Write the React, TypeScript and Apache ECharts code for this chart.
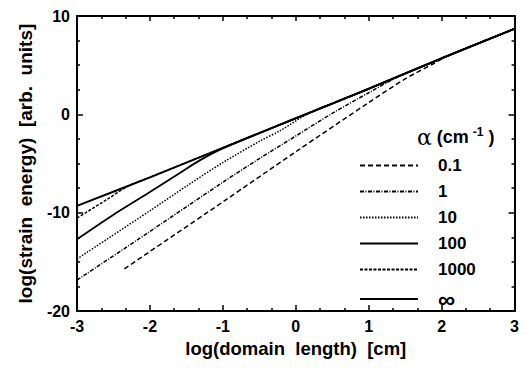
import React, { useEffect, useRef } from "react";
import * as echarts from "echarts";

// ---- data ----
const legendNames = ["0.1", "1", "10", "100", "1000", "\u221E"];

const x01 = [-2.35, -1, 0, 1, 1.5, 1.9, 2.1, 3];
const y01 = [-15.7, -8.9, -3.8, 1.2, 3.6, 5.2, 6.0, 8.7];

const x1 = [-3, -2, -1, -0.5, 0, 0.5, 1, 1.4, 2, 3];
const y1 = [-16.85, -11.9, -6.9, -4.5, -2.2, 0.1, 2.2, 3.8, 5.7, 8.7];

const x10 = [-3, -2, -1.5, -1, -0.5, -0.2, 0.2, 1, 2, 3];
const y10 = [-14.7, -9.8, -7.3, -4.9, -2.75, -1.6, 0.2, 2.6, 5.7, 8.7];

const x100 = [-3, -2.5, -2, -1.6, -1.3, -1, 0, 1, 2, 3];
const y100 = [-12.7, -10.2, -7.9, -6.0, -4.6, -3.45, -0.4, 2.6, 5.7, 8.7];

const x1000 = [-3, -2.6, -2.3, -2, -1, 0, 1, 2, 3];
const y1000 = [-10.55, -8.7, -7.3, -6.4, -3.4, -0.4, 2.6, 5.7, 8.7];

const xInf = [-3, -2, -1, 0, 1, 2, 3];
const yInf = [-9.3, -6.4, -3.4, -0.4, 2.6, 5.7, 8.7];

const xTicks = [-3, -2, -1, 0, 1, 2, 3];
const yTicks = [-20, -10, 0, 10];

const pairs = (xs: number[], ys: number[]) => xs.map((x, i) => [x, ys[i]]);

const FONT = "'Liberation Sans', Arial, sans-serif";

export default function App() {
  const ref = useRef<HTMLDivElement>(null);
  useEffect(() => {
    if (!ref.current) return;
    const chart = echarts.init(ref.current, undefined, { renderer: "svg" });
    const styles: any[] = [
      { type: [5, 3], width: 1.5 },
      { type: [4, 1.5, 1, 1.5], width: 1.5 },
      { type: [1.5, 1.5], width: 1.5 },
      { type: "solid", width: 1.8 },
      { type: [3, 1.5], width: 1.5 },
      { type: "solid", width: 2 },
    ];
    const dataSets = [
      pairs(x01, y01),
      pairs(x1, y1),
      pairs(x10, y10),
      pairs(x100, y100),
      pairs(x1000, y1000),
      pairs(xInf, yInf),
    ];
    const axisCommon = {
      type: "value" as const,
      axisLine: { show: true, onZero: false, lineStyle: { color: "#000", width: 2 } },
      splitLine: { show: false },
    };
    chart.setOption({
      animation: false,
      backgroundColor: "#fff",
      grid: { left: 67, right: 1, top: 2, bottom: 40, containLabel: false },
      xAxis: [
        {
          ...axisCommon,
          min: xTicks[0],
          max: xTicks[xTicks.length - 1],
          interval: 1,
          name: "log(domain  length)  [cm]",
          nameLocation: "middle",
          nameGap: 23,
          nameTextStyle: { fontFamily: FONT, fontWeight: "bold", fontSize: 18.5, color: "#000" },
          axisTick: { inside: true, length: 6, lineStyle: { color: "#000", width: 1.5 } },
          minorTick: { show: true, splitNumber: 3, length: 3, lineStyle: { color: "#000", width: 1.5 } },
          axisLabel: { fontFamily: FONT, fontWeight: "bold", fontSize: 16, color: "#000", margin: 7 },
        },
        {
          ...axisCommon,
          position: "top",
          min: xTicks[0],
          max: xTicks[xTicks.length - 1],
          interval: 1,
          axisTick: { inside: true, length: 5, lineStyle: { color: "#000", width: 1.5 } },
          minorTick: { show: true, splitNumber: 3, length: 3, lineStyle: { color: "#000", width: 1.5 } },
          axisLabel: { show: false },
        },
      ],
      yAxis: [
        {
          ...axisCommon,
          min: yTicks[0],
          max: yTicks[yTicks.length - 1],
          interval: 10,
          name: "log(strain  energy)  [arb.  units]",
          nameLocation: "middle",
          nameGap: 42,
          nameTextStyle: { fontFamily: FONT, fontWeight: "bold", fontSize: 19, color: "#000" },
          axisTick: { inside: true, length: 6, lineStyle: { color: "#000", width: 1.5 } },
          minorTick: { show: true, splitNumber: 4, length: 3, lineStyle: { color: "#000", width: 1.5 } },
          axisLabel: { fontFamily: FONT, fontWeight: "bold", fontSize: 16, color: "#000", margin: 7 },
        },
        {
          ...axisCommon,
          position: "right",
          min: yTicks[0],
          max: yTicks[yTicks.length - 1],
          interval: 10,
          axisTick: { inside: true, length: 6, lineStyle: { color: "#000", width: 1.5 } },
          minorTick: { show: true, splitNumber: 4, length: 3, lineStyle: { color: "#000", width: 1.5 } },
          axisLabel: { show: false },
        },
      ],
      legend: {
        orient: "vertical",
        left: 351,
        top: 149,
        itemWidth: 58,
        itemHeight: 12,
        itemGap: 9,
        padding: 0,
        data: legendNames,
        itemStyle: { opacity: 0 },
        formatter: (name: string) => (name === "\u221E" ? "{inf|\u221E}" : name),
        textStyle: {
          fontFamily: FONT,
          fontWeight: "bold",
          fontSize: 17,
          color: "#000",
          padding: [0, 0, 0, 15],
          rich: {
            inf: { fontFamily: FONT, fontSize: 24, fontWeight: "bold", lineHeight: 17, color: "#000" },
          },
        },
      },
      graphic: [
        {
          type: "text",
          left: 409,
          top: 118,
          style: {
            text: "{a|\u03B1} (cm{s|-1} )",
            fontFamily: FONT,
            fontWeight: "bold",
            fontSize: 18,
            fill: "#000",
            rich: {
              a: { fontFamily: "'DejaVu Serif', serif", fontSize: 22, fontWeight: "normal", fill: "#000" },
              s: { fontSize: 12, fontWeight: "bold", verticalAlign: "top", padding: [0, 0, 9, 4], fill: "#000" },
            },
          },
        },
      ],
      series: legendNames.map((name, i) => ({
        name,
        type: "line",
        data: dataSets[i],
        symbol: "none",
        smooth: 0.3,
        color: "#000",
        lineStyle: { color: "#000", ...styles[i] },
        z: 10 - i,
      })),
    });
    return () => chart.dispose();
  }, []);
  return <div ref={ref} style={{ width: 514, height: 355 }} />;
}
